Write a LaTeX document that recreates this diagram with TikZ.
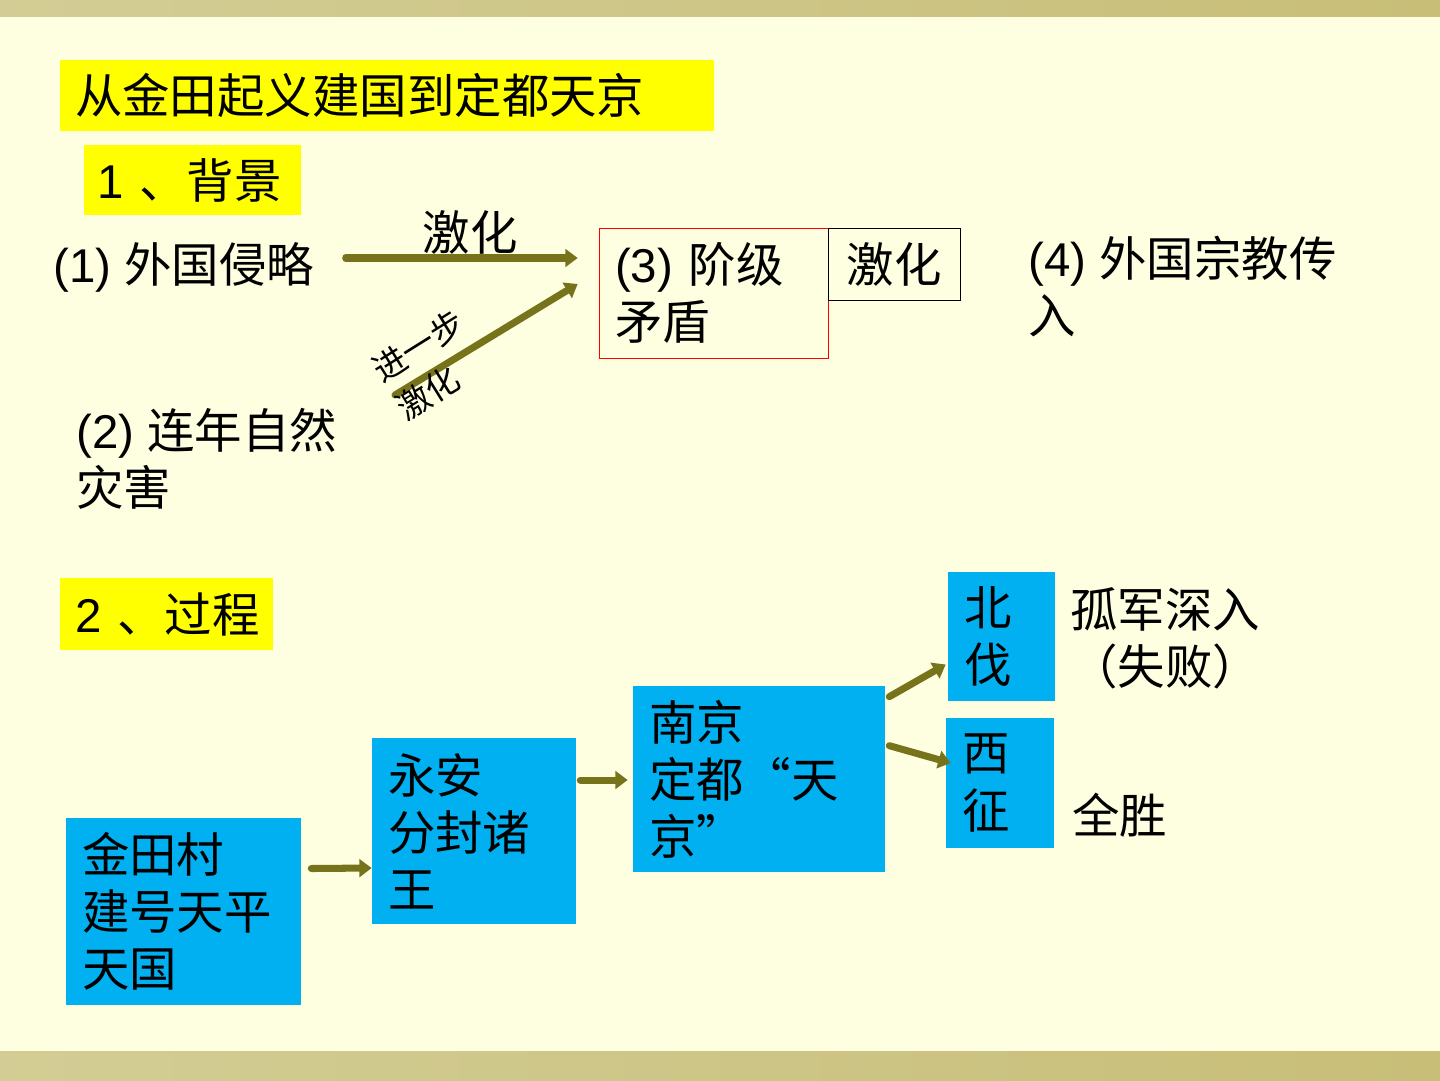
\documentclass[tikz,border=0pt]{standalone}
\usepackage{fontspec}
\setmainfont{Noto Sans CJK SC}
\newfontfamily\lat{Liberation Sans}
\usetikzlibrary{arrows.meta,calc,positioning}
\definecolor{pagebg}{HTML}{FEFEE0}
\definecolor{barleft}{HTML}{D3CD95}
\definecolor{barright}{HTML}{C8BE78}
\definecolor{hlyellow}{HTML}{FFFF00}
\definecolor{boxblue}{HTML}{00B0F0}
\definecolor{arrowolive}{HTML}{77731A}

\begin{document}
\begin{tikzpicture}[x=0.02cm, y=-0.02cm,
  font=\fontsize{27pt}{32.5pt}\selectfont,
  lbl/.style={inner sep=0pt, align=left},
  hl/.style={fill=hlyellow, inner ysep=0pt, align=left},
  bluebox/.style={fill=boxblue, inner xsep=0.32cm, inner ysep=0pt, align=left},
  flow/.style={draw=arrowolive, line width=4pt, line cap=round,
    -{Triangle[length=7pt,width=10pt]}}]
  %% Page
  \useasboundingbox (0,0) rectangle (1440,1080);
  \fill[pagebg] (0,0) rectangle (1440,1080);
  \shade[left color=barleft, right color=barright] (0,0) rectangle (1440,16);
  \shade[left color=barleft, right color=barright] (0,1051) rectangle (1440,1080);

  %% Headings
  \node[hl, inner xsep=0.3cm, minimum width=13.08cm, minimum height=1.42cm,
    text width=12.48cm] (title) at (387,95.5) {从金田起义建国到定都天京};
  \node[hl, inner xsep=0.26cm, minimum width=4.34cm, minimum height=1.4cm,
    text width=3.82cm] (bg) at (192.5,180) {\mbox{{\lat 1 }、背景}};
  \node[hl, inner xsep=0.3cm, minimum width=4.26cm, minimum height=1.44cm,
    text width=3.66cm] (gc) at (166.5,614) {\mbox{{\lat 2 }、过程}};

  %% 1. Background
  \node[lbl, anchor=west] (wq) at (53,267) {{\lat (1) }外国侵略};
  \node[lbl, anchor=west] (zr) at (76,458.5) {{\lat (2) }连年自然\\灾害};
  \node[draw=red, thin, inner xsep=0.32cm, inner ysep=0pt, align=left,
    minimum width=4.58cm, minimum height=2.6cm, text width=3.94cm]
    (jj) at (713.5,293) {{\lat (3) }阶级\\矛盾};
  \node[draw=black, thin, inner sep=0pt, minimum width=2.64cm,
    minimum height=1.44cm] (jh) at (894,264) {激化};
  \node[lbl, anchor=west] (zj) at (1028,286.5) {{\lat (4) }外国宗教传\\入};

  \coordinate (dstart) at (395,395);
  \draw[flow] ($(jj.west)+(-253,-35)$) -- ($(jj.west)+(-21,-35)$);
  \node[lbl] (jhtop) at (470,232) {激化};
  \draw[flow] (dstart) -- ($(jj.west)+(-21,-9)$);
  \node[lbl, rotate=32, font=\fontsize{19pt}{25.5pt}\selectfont]
    (jb) at (430,365) {进一步\\激化};

  %% 2. Process
  \node[bluebox, minimum width=4.7cm, minimum height=3.74cm, text width=4.06cm]
    (jt) at (183.5,911.5) {金田村\\建号天平\\天国};
  \node[bluebox, minimum width=4.08cm, minimum height=3.72cm, text width=3.44cm]
    (ya) at (474,831) {永安\\分封诸\\王};
  \node[bluebox, minimum width=5.04cm, minimum height=3.72cm, text width=4.4cm]
    (nj) at (759,779) {南京\\定都“天\\京”};
  \node[bluebox, minimum width=2.14cm, minimum height=2.58cm, text width=1.5cm]
    (bf) at (1001.5,636.5) {北\\伐};
  \node[bluebox, minimum width=2.16cm, minimum height=2.6cm, text width=1.52cm]
    (xz) at (1000,783) {西\\征};
  \node[lbl, anchor=west] (gj) at (1070,638.5) {孤军深入\\（失败）};
  \node[lbl, anchor=west] (qs) at (1072,815) {全胜};

  \draw[flow] ($(jt.east)+(10,-43)$) -- ($(ya.west)+(0,37)$);
  \draw[flow] ($(ya.east)+(4,-51)$) -- ($(nj.west)+(-5,1)$);
  \draw[flow] ($(nj.north east)+(4,11)$) -- ($(bf.west)+(-2,28)$);
  \draw[flow] ($(nj.north east)+(4,60)$) -- ($(xz.west)+(5,-20)$);
\end{tikzpicture}
\end{document}
